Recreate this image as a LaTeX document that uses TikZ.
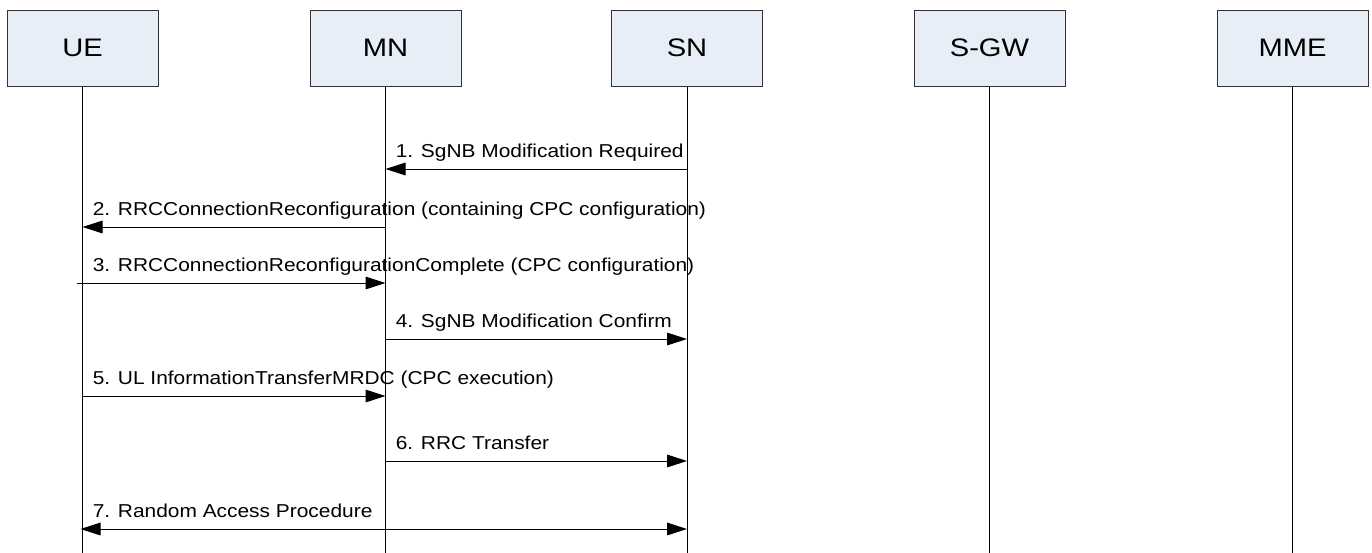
\documentclass[tikz,border=0pt]{standalone}
\usepackage{fontspec}
\setmainfont{Liberation Sans}
\newfontfamily\hdrfont[FakeStretch=1.15]{Liberation Sans}
\newfontfamily\lblfont[FakeStretch=1.12]{Liberation Sans}
\usetikzlibrary{arrows.meta,calc}
\definecolor{boxfill}{RGB}{232,238,248}
\definecolor{boxline}{RGB}{50,50,50}
\tikzset{
  entity/.style={draw=boxline, line width=0.75pt, fill=boxfill, minimum width=113.25pt, minimum height=57pt, inner sep=0pt, font=\hdrfont\fontsize{19pt}{21pt}\selectfont},
  life/.style={draw=black, line width=0.75pt},
  tip/.tip={Triangle[length=15pt,width=9.5pt]},
  msg/.style={draw=black, line width=0.75pt, -tip},
  bimsg/.style={draw=black, line width=0.75pt, tip-tip},
  lbl/.style={anchor=base west, inner sep=0pt, font=\lblfont\fontsize{14pt}{16pt}\selectfont}
}
\begin{document}
\begin{tikzpicture}[x=0.75pt,y=-0.75pt]
\useasboundingbox (0,0) rectangle (1372,553);
\coordinate (bottom) at (0,553);
% entities
\node[entity] (ue)  at (82.5,48)  {UE};
\node[entity] (mn)  at (385.5,48) {MN};
\node[entity] (sn)  at (687,48)   {SN};
\node[entity] (sgw) at (989.5,48) {S-GW};
\node[entity] (mme) at (1292.5,48){MME};
% lifelines
\foreach \e in {ue,mn,sn,sgw,mme}{
  \draw[life] (\e.south) -- (\e.south |- bottom);
}
% message rows
\coordinate (r1) at (0,169);
\coordinate (r2) at (0,227);
\coordinate (r3) at (0,283);
\coordinate (r4) at (0,339);
\coordinate (r5) at (0,396);
\coordinate (r6) at (0,461);
\coordinate (r7) at (0,529);
% start of message 3, left of the UE lifeline
\coordinate (s3) at ($(ue.south |- r3)+(-6,0)$);
\coordinate (e7) at ($(ue.south |- r7)+(-2,0)$);
% messages
\draw[msg] (sn |- r1) -- (mn |- r1);
\node[lbl] (l1) at ($(mn |- r1)+(10,-12)$) {1. SgNB Modification Required};
\draw[msg] (mn |- r2) -- (ue |- r2);
\node[lbl] (l2) at ($(ue |- r2)+(10,-12)$) {2. RRCConnectionReconfiguration (containing CPC configuration)};
\draw[msg] (s3) -- (mn |- r3);
\node[lbl] (l3) at ($(ue |- r3)+(10,-12)$) {3. RRCConnectionReconfigurationComplete (CPC configuration)};
\draw[msg] (mn |- r4) -- (sn |- r4);
\node[lbl] (l4) at ($(mn |- r4)+(10,-12)$) {4. SgNB Modification Confirm};
\draw[msg] (ue |- r5) -- (mn |- r5);
\node[lbl] (l5) at ($(ue |- r5)+(10,-12)$) {5. UL InformationTransferMRDC (CPC execution)};
\draw[msg] (mn |- r6) -- (sn |- r6);
\node[lbl] (l6) at ($(mn |- r6)+(10,-12)$) {6. RRC Transfer};
\draw[bimsg] (e7) -- (sn |- r7);
\node[lbl] (l7) at ($(ue |- r7)+(10,-12)$) {7. Random Access Procedure};
\end{tikzpicture}
\end{document}
